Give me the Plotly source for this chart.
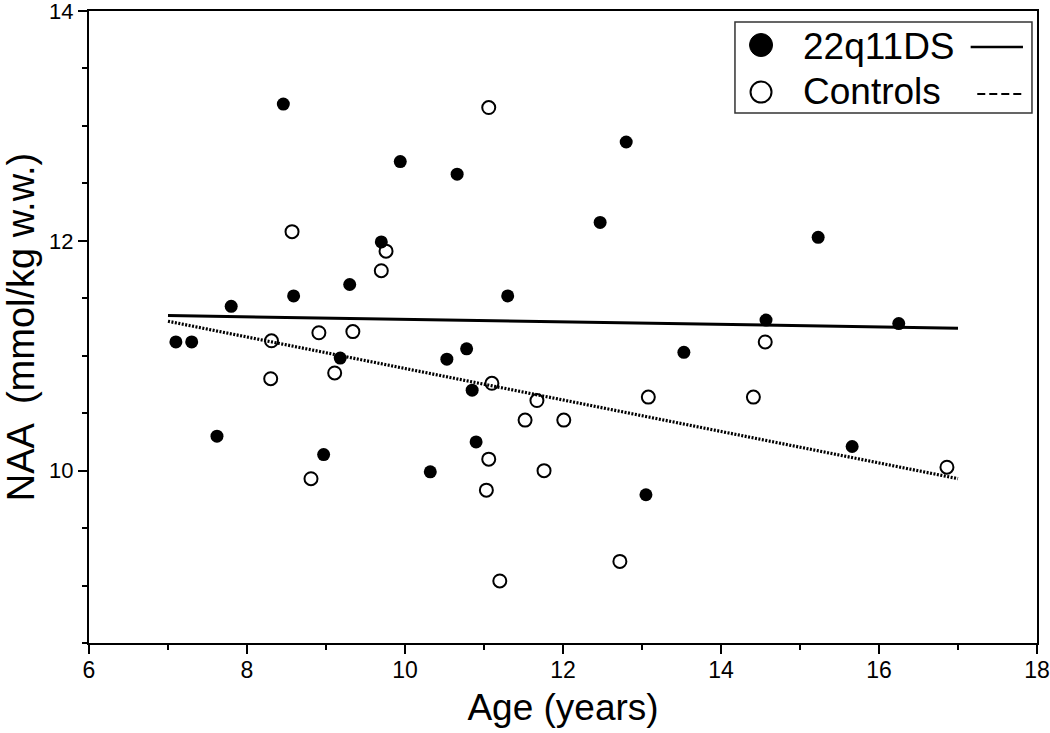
import plotly.graph_objects as go

# 22q11DS (filled circles)
age_22q = [7.10, 7.30, 7.80, 7.62, 8.46, 8.59, 8.97, 9.18, 9.30, 9.70, 9.94, 10.66, 10.53,
           10.78, 10.85, 10.90, 10.32, 11.30, 12.47, 12.80, 13.05, 13.53, 14.57, 15.23, 15.66, 16.25]
naa_22q = [11.12, 11.12, 11.43, 10.30, 13.19, 11.52, 10.14, 10.98, 11.62, 11.99, 12.69, 12.58, 10.97,
           11.06, 10.70, 10.25, 9.99, 11.52, 12.16, 12.86, 9.79, 11.03, 11.31, 12.03, 10.21, 11.28]

# Controls (open circles)
age_ctrl = [8.57, 8.31, 8.30, 8.81, 8.91, 9.11, 9.34, 9.70, 9.76, 11.06, 11.10, 11.67,
            11.52, 12.01, 11.06, 11.76, 11.03, 11.20, 12.72, 13.08, 14.41, 14.56, 16.86]
naa_ctrl = [12.08, 11.13, 10.80, 9.93, 11.20, 10.85, 11.21, 11.74, 11.91, 13.16, 10.76, 10.61,
            10.44, 10.44, 10.10, 10.00, 9.83, 9.04, 9.21, 10.64, 10.64, 11.12, 10.03]

# Regression lines (end points)
fit_x = [7.0, 17.0]
fit_22q = [11.35, 11.24]
fit_ctrl = [11.30, 9.93]

legend_labels = ["22q11DS", "Controls"]

FONT = "Liberation Sans, Arial, Helvetica, sans-serif"

fig = go.Figure()
fig.add_trace(go.Scatter(x=fit_x, y=fit_22q, mode="lines",
                         line=dict(color="black", width=3), showlegend=False, hoverinfo="skip"))
fig.add_trace(go.Scatter(x=fit_x, y=fit_ctrl, mode="lines",
                         line=dict(color="black", width=3.2, dash="2px,1.5px"),
                         showlegend=False, hoverinfo="skip"))
fig.add_trace(go.Scatter(x=age_22q, y=naa_22q, mode="markers", name=legend_labels[0],
                         marker=dict(symbol="circle", size=13, color="black",
                                     line=dict(color="black", width=0)), showlegend=False))
fig.add_trace(go.Scatter(x=age_ctrl, y=naa_ctrl, mode="markers", name=legend_labels[1],
                         marker=dict(symbol="circle-open", size=13, color="black",
                                     line=dict(width=2)), showlegend=False))

# custom legend (box, symbols, labels, line samples) in paper coordinates
shapes = [
    dict(type="rect", xref="paper", yref="paper", x0=0.6814, x1=0.9947, y0=0.8386, y1=0.9826,
         line=dict(color="#333", width=1.5), fillcolor="white", layer="above"),
    dict(type="circle", xref="paper", yref="paper", xsizemode="pixel", ysizemode="pixel",
         xanchor=0.7089, yanchor=0.9462, x0=-11.5, x1=11.5, y0=-11.5, y1=11.5,
         fillcolor="black", line=dict(color="black", width=1), layer="above"),
    dict(type="circle", xref="paper", yref="paper", xsizemode="pixel", ysizemode="pixel",
         xanchor=0.7089, yanchor=0.8718, x0=-10.5, x1=10.5, y0=-10.5, y1=10.5,
         fillcolor="white", line=dict(color="black", width=2), layer="above"),
    dict(type="line", xref="paper", yref="paper", x0=0.930, x1=0.9852, y0=0.943, y1=0.943,
         line=dict(color="black", width=2.5), layer="above"),
    dict(type="line", xref="paper", yref="paper", x0=0.937, x1=0.9852, y0=0.8687, y1=0.8687,
         line=dict(color="black", width=2, dash="8px,4px"), layer="above"),
]
annotations = [
    dict(xref="paper", yref="paper", x=0.751, y=0.9438, text=legend_labels[0], showarrow=False,
         xanchor="left", yanchor="middle", font=dict(family=FONT, size=37, color="black")),
    dict(xref="paper", yref="paper", x=0.751, y=0.8734, text=legend_labels[1], showarrow=False,
         xanchor="left", yanchor="middle", font=dict(family=FONT, size=37, color="black")),
]

fig.update_layout(
    width=1050, height=733,
    margin=dict(l=89, r=13, t=11, b=90, autoexpand=False),
    paper_bgcolor="white", plot_bgcolor="white",
    font=dict(family=FONT, color="black"),
    shapes=shapes, annotations=annotations,
    showlegend=False,
)
fig.update_xaxes(
    range=[6, 18], tick0=6, dtick=2, ticks="outside", ticklen=9, tickwidth=2, tickcolor="black",
    showline=True, linecolor="black", linewidth=2, mirror=True, showgrid=False, zeroline=False,
    automargin=False, ticklabeloverflow="allow", ticklabelstandoff=-4,
    tickfont=dict(size=23, family=FONT),
    minor=dict(dtick=1, ticks="outside", ticklen=5, tickwidth=2, tickcolor="black", showgrid=False),
    title=dict(text="Age (years)", font=dict(size=37, family=FONT), standoff=13),
)
fig.update_yaxes(
    range=[8.5, 14], tick0=0, dtick=2, ticks="outside", ticklen=9, tickwidth=2, tickcolor="black",
    showline=True, linecolor="black", linewidth=2, mirror=True, showgrid=False, zeroline=False,
    automargin=False, ticklabeloverflow="allow", tickfont=dict(size=22, family=FONT),
    minor=dict(dtick=0.5, ticks="outside", ticklen=5, tickwidth=2, tickcolor="black", showgrid=False),
    title=dict(text="NAA  (mmol/kg w.w.)", font=dict(size=38, family=FONT), standoff=15),
)

fig.write_html("out.html", config={"displayModeBar": False},
               post_script="document.body.style.margin='0';document.body.style.overflow='hidden';")
